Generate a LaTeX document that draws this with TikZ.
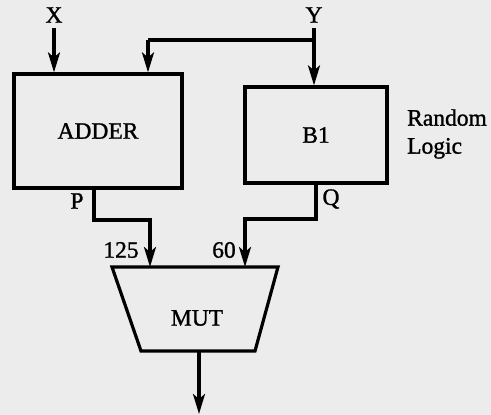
\documentclass[tikz,border=0pt]{standalone}
\usepackage{fontspec}
\setmainfont[FakeBold=1.2]{Liberation Serif}
\usetikzlibrary{arrows.meta,calc}
\definecolor{paper}{HTML}{ECECEC}
\tikzset{
  wire/.style={line width=3.2pt, line join=miter},
  arr/.style={wire, -{Stealth[length=20pt,width=12pt,inset=5pt]}},
  blockbox/.style={draw, line width=3.2pt, minimum width=#1, inner sep=0pt},
  lbl/.style={font=\fontsize{23.5}{28}\selectfont, inner sep=0pt}
}
\begin{document}
\begin{tikzpicture}[x=1pt,y=-1pt]
  \fill[paper] (0,0) rectangle (491,415);
  \useasboundingbox (0,0) rectangle (491,415);
  % blocks
  \node[blockbox=168pt, minimum height=114pt, lbl] (adder) at (98,131) {ADDER};
  \node[blockbox=142pt, minimum height=96pt, lbl] (b1) at (316,135) {B1};
  \node[lbl, align=left, anchor=west] (rl) at (407,134) {Random\\[0pt]Logic};
  % MUT trapezoid
  \coordinate (mtl) at (112,267);
  \coordinate (mtr) at (278,267);
  \coordinate (mbr) at (255,351);
  \coordinate (mbl) at (141,351);
  \draw[wire] (mtl) -- (mtr) -- (mbr) -- (mbl) -- cycle;
  \node[lbl] (mut) at (197,318) {MUT};
  % inputs
  \node[lbl] (x) at (54,15) {X};
  \node[lbl] (y) at (314,15) {Y};
  \coordinate (xs) at (54,28);
  \coordinate (ys) at (314,28);
  \coordinate (yj) at (314,40);
  \coordinate (ain) at (148,40);
  \draw[arr] (xs) -- (xs |- adder.north);
  \draw[arr] (ys) -- (ys |- b1.north);
  \draw[wire] (yj) -- (ain);
  \draw[arr] (ain) -- (ain |- adder.north);
  % P path
  \coordinate (ps) at (94,188);
  \coordinate (pb) at (94,220);
  \coordinate (pc) at (150,220);
  \draw[arr] (ps) -- (pb) -- (pc) -- (pc |- mtl);
  \node[lbl] (p) at (77,201) {P};
  \node[lbl] (n125) at (121,250) {125};
  % Q path
  \coordinate (qs) at (316,183);
  \coordinate (qb) at (316,219);
  \coordinate (qc) at (245,219);
  \draw[arr] (qs) -- (qb) -- (qc) -- (qc |- mtl);
  \node[lbl] (q) at (331,199) {Q};
  \node[lbl] (n60) at (224,250) {60};
  % output
  \coordinate (out) at (199,414);
  \draw[arr] (199,351) -- (out);
\end{tikzpicture}
\end{document}
